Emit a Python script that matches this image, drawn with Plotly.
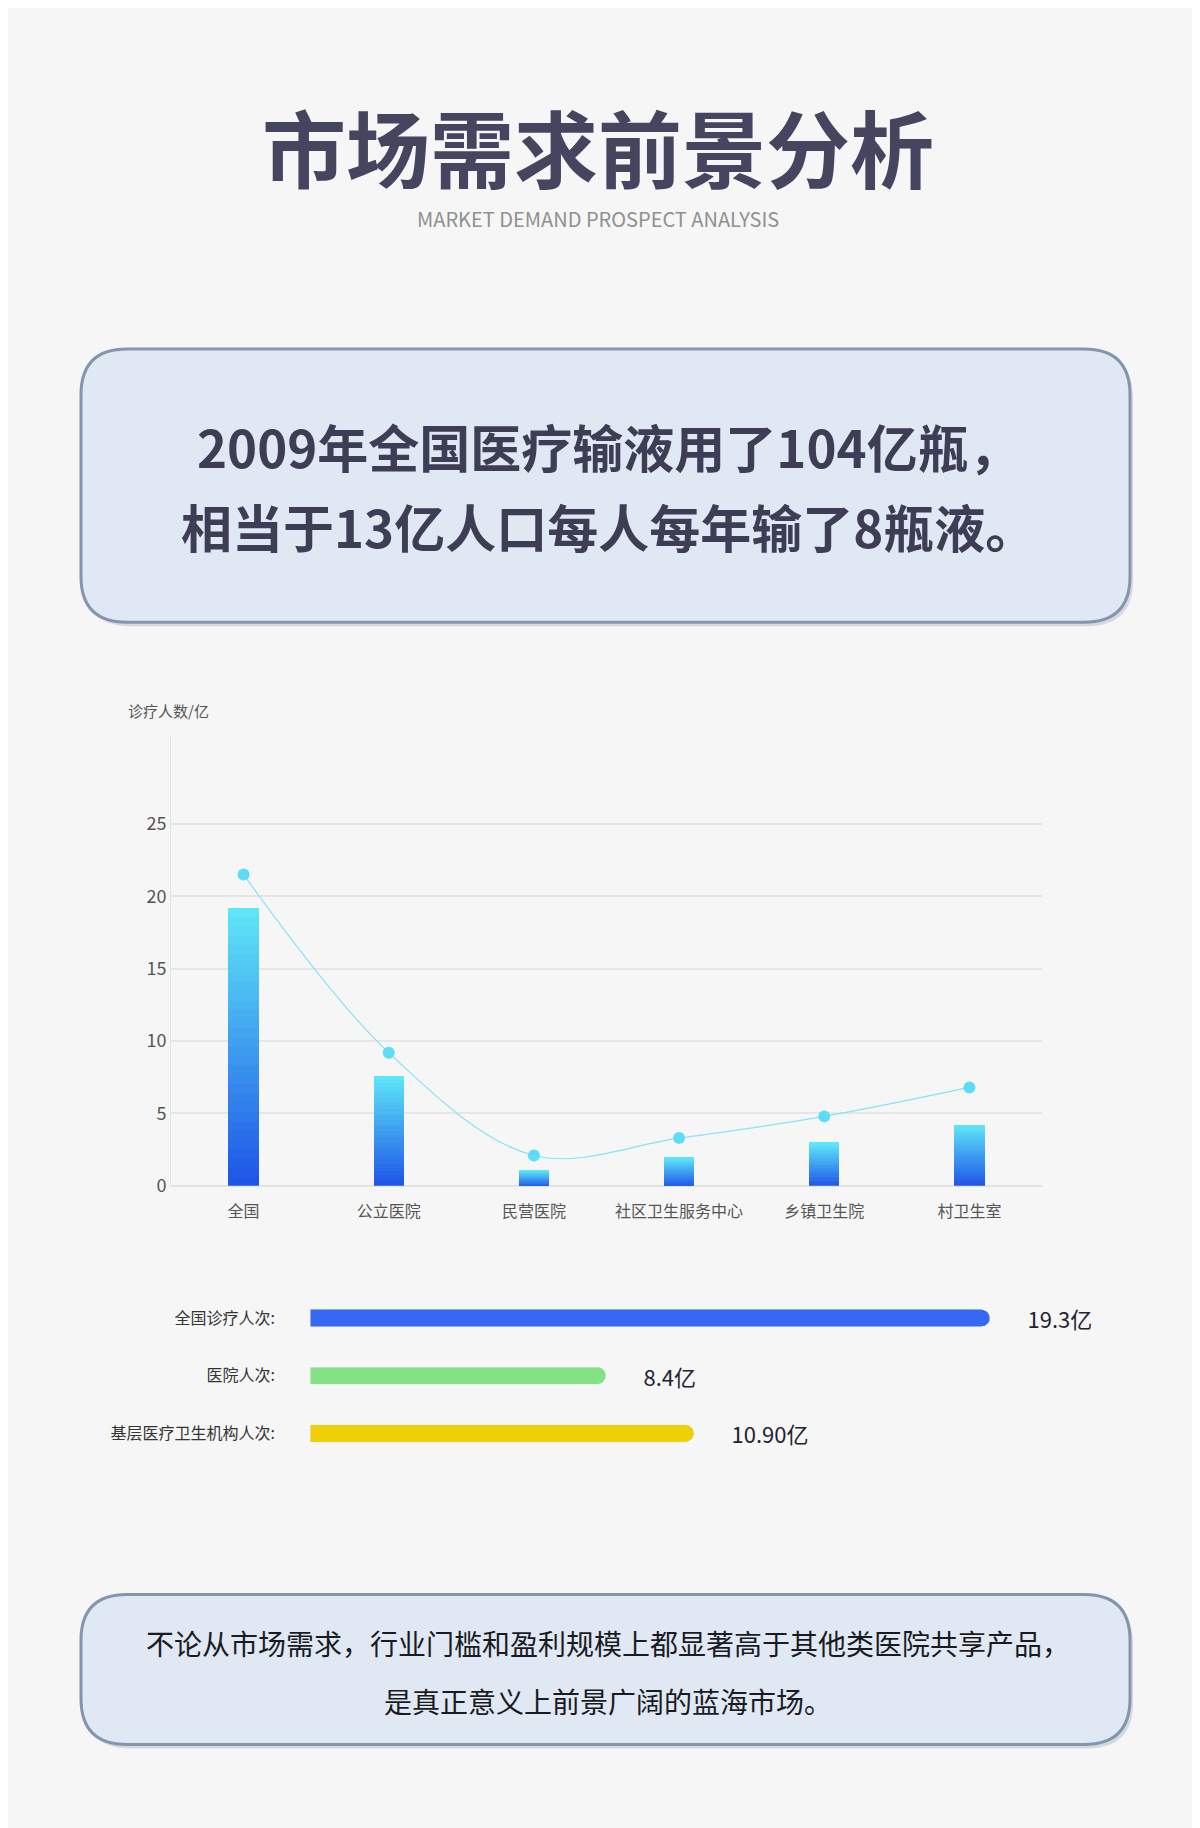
import plotly.graph_objects as go

W, H = 1200, 1828
categories = ["全国", "公立医院", "民营医院", "社区卫生服务中心", "乡镇卫生院", "村卫生室"]
bar_values = [19.2, 7.6, 1.1, 2.0, 3.0, 4.2]
line_values = [21.5, 9.2, 2.1, 3.3, 4.8, 6.8]
y_ticks = [0, 5, 10, 15, 20, 25]

h_labels = ["全国诊疗人次:", "医院人次:", "基层医疗卫生机构人次:"]
h_values = [19.3, 8.4, 10.90]
h_texts = ["19.3亿", "8.4亿", "10.90亿"]
h_colors = ["#3669f2", "#84e184", "#efcf06"]

FONT = "Noto Sans CJK SC"
fig = go.Figure()

N = 30
c0 = (30, 84, 232)
c1 = (96, 232, 248)
for k in range(N):
    t = (k + 0.5) / N
    col = "rgb(%d,%d,%d)" % tuple(int(c0[j] + (c1[j] - c0[j]) * t) for j in range(3))
    fig.add_trace(go.Bar(x=categories, y=[v / N for v in bar_values], marker_color=col,
                         marker_line_width=0, width=0.21, showlegend=False, hoverinfo="skip"))

fig.add_trace(go.Scatter(x=categories, y=line_values, mode="lines+markers",
                         line=dict(shape="spline", smoothing=1.0, color="#86e3f5", width=1.2),
                         marker=dict(size=12, color="#5ddcf6"), showlegend=False))

fig.add_trace(go.Bar(x=h_values, y=h_labels, orientation="h", xaxis="x2", yaxis="y2",
                     marker=dict(color=h_colors, cornerradius="50%"), width=0.3,
                     text=["       " + t for t in h_texts], textposition="outside",
                     constraintext="none",
                     textfont=dict(size=22, color="#222233", family=FONT),
                     cliponaxis=False, showlegend=False))

def rrect(x0, y0, x1, y1, r):
    X = lambda p: p / W
    Y = lambda p: 1 - p / H
    return (f"M {X(x0+r)},{Y(y0)} L {X(x1-r)},{Y(y0)} Q {X(x1)},{Y(y0)} {X(x1)},{Y(y0+r)} "
            f"L {X(x1)},{Y(y1-r)} Q {X(x1)},{Y(y1)} {X(x1-r)},{Y(y1)} L {X(x0+r)},{Y(y1)} "
            f"Q {X(x0)},{Y(y1)} {X(x0)},{Y(y1-r)} L {X(x0)},{Y(y0+r)} Q {X(x0)},{Y(y0)} {X(x0+r)},{Y(y0)} Z")

shapes = []
for (y0, y1) in [(343, 618), (1596, 1747)]:
    shapes.append(dict(type="path", xref="paper", yref="paper", path=rrect(76, y0 + 4, 1125, y1 + 4, 46),
                       fillcolor="rgba(150,160,180,0.35)", line_width=0, layer="below"))
    shapes.append(dict(type="path", xref="paper", yref="paper", path=rrect(73, y0, 1122, y1, 46),
                       fillcolor="#dfe8f3", line=dict(color="#8595ad", width=3), layer="below"))

ann = [
    dict(text="<b>市场需求前景分析</b>", x=0.492, y=1 - 138 / H, font=dict(size=84, color="#454560", family=FONT)),
    dict(text="MARKET DEMAND PROSPECT ANALYSIS", x=0.492, y=1 - 212 / H, font=dict(size=20, color="#909090", family=FONT)),
    dict(text="<b>2009年全国医疗输液用了104亿瓶，</b>", x=0.5, y=1 - 441 / H, font=dict(size=51, color="#3d3d55", family=FONT)),
    dict(text="<b>相当于13亿人口每人每年输了8瓶液。</b>", x=0.5, y=1 - 521 / H, font=dict(size=51, color="#3d3d55", family=FONT)),
    dict(text="诊疗人数/亿", x=118 / W, y=1 - 707 / H, xanchor="left", font=dict(size=15, color="#555555", family=FONT)),
    dict(text="不论从市场需求，行业门槛和盈利规模上都显著高于其他类医院共享产品，", x=0.5, y=1 - 1645 / H, font=dict(size=28, color="#1a1a22", family=FONT)),
    dict(text="是真正意义上前景广阔的蓝海市场。", x=0.5, y=1 - 1703 / H, font=dict(size=28, color="#1a1a22", family=FONT)),
]
for a in ann:
    a.setdefault("xanchor", "center")
    a.update(xref="paper", yref="paper", yanchor="middle", showarrow=False)

fig.update_layout(
    width=W, height=H, margin=dict(l=0, r=0, t=0, b=0),
    paper_bgcolor="#f6f6f6", plot_bgcolor="rgba(0,0,0,0)",
    barmode="stack", bargap=0.2, font=dict(family=FONT),
    shapes=shapes, annotations=ann,
    xaxis=dict(domain=[163 / W, 1034 / W], showgrid=False, showline=False, ticks="",
               ticklabelstandoff=14, tickfont=dict(size=16, color="#555555"), fixedrange=True),
    yaxis=dict(domain=[1 - 1185 / H, 1 - 732 / H], range=[0, 31.1], tickvals=y_ticks,
               gridcolor="#e6e6e6", gridwidth=1.5, zeroline=True, zerolinecolor="#e3e3e3", zerolinewidth=2,
               showline=True, linecolor="#e3e3e3", tickfont=dict(size=18, color="#555555"), ticks=""),
    xaxis2=dict(domain=[302 / W, 982 / W], range=[0, 19.3], anchor="y2", visible=False),
    yaxis2=dict(domain=[1 - 1463 / H, 1 - 1289 / H], anchor="x2", autorange="reversed",
                showgrid=False, showline=False, zeroline=False, ticks="", ticklabelstandoff=34,
                tickfont=dict(size=16, color="#333333")),
)
fig.write_html("out.html")
